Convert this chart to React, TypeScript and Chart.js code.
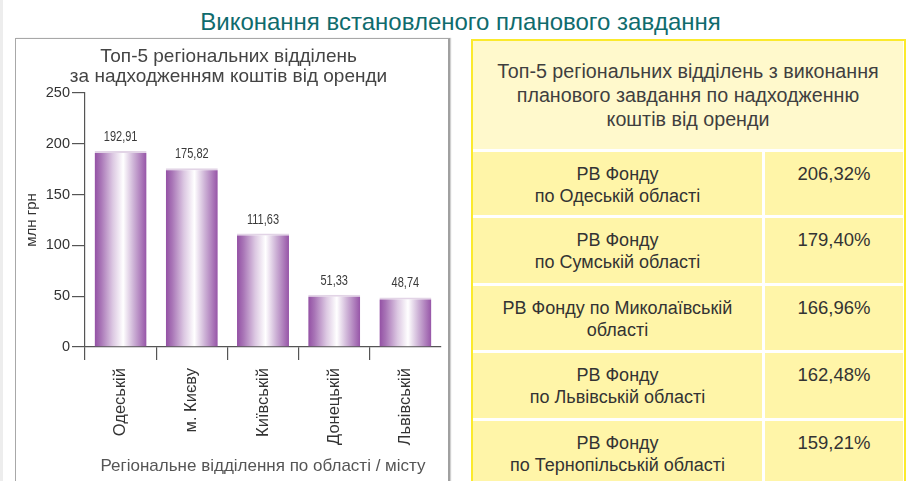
import React, { useEffect, useRef } from 'react';
import { Chart, registerables } from 'chart.js';

Chart.register(...registerables);

const pageTitle = 'Виконання встановленого планового завдання';
const chartTitle = ['Топ-5 регіональних відділень', 'за надходженням коштів від оренди'];
const categories = ['Одеській', 'м. Києву', 'Київській', 'Донецькій', 'Львівській'];
const values = [192.91, 175.82, 111.63, 51.33, 48.74];
const yTicks = [0, 50, 100, 150, 200, 250];
const yTitle = 'млн грн';
const xTitle = 'Регіональне відділення по області / місту';

const tableHeader = [
  'Топ-5 регіональних відділень з виконання',
  'планового завдання по надходженню',
  'коштів від оренди',
];
const tableNames = [
  ['РВ Фонду', 'по Одеській області'],
  ['РВ Фонду', 'по Сумській області'],
  ['РВ Фонду по Миколаївській', 'області'],
  ['РВ Фонду', 'по Львівській області'],
  ['РВ Фонду', 'по Тернопільській області'],
];
const tablePercents = [206.32, 179.4, 166.96, 162.48, 159.21];

const fmt = (v: number) => v.toFixed(2).replace('.', ',');
const FONT = "'Liberation Sans', Arial, Helvetica, sans-serif";
const BAR_PCT = 0.73;

const valueLabels = {
  id: 'valueLabels',
  afterDatasetsDraw(chart: any) {
    const ctx = chart.ctx;
    const meta = chart.getDatasetMeta(0);
    meta.data.forEach((el: any, i: number) => {
      ctx.save();
      ctx.fillStyle = '#3a3a3a';
      ctx.font = `14.5px ${FONT}`;
      ctx.textAlign = 'center';
      ctx.textBaseline = 'middle';
      ctx.translate(el.x, el.y - 14);
      ctx.scale(0.76, 1);
      ctx.fillText(fmt(values[i]), 0, 0);
      ctx.restore();
    });
  },
};

function ChartPanel() {
  const ref = useRef<HTMLCanvasElement | null>(null);
  useEffect(() => {
    if (!ref.current) return;
    const chart = new Chart(ref.current, {
      type: 'bar',
      data: {
        labels: categories,
        datasets: [
          {
            data: values,
            backgroundColor: (c: any) => {
              const ch = c.chart;
              const xs = ch.scales && ch.scales.x;
              if (!xs || c.dataIndex === undefined || !ch.chartArea) return '#a060b0';
              const cx = xs.getPixelForValue(c.dataIndex);
              const half = (xs.width / categories.length) * BAR_PCT / 2;
              const g = ch.ctx.createLinearGradient(cx - half, 0, cx + half, 0);
              g.addColorStop(0, '#9350a4');
              g.addColorStop(0.12, '#a874b6');
              g.addColorStop(0.35, '#dcc8e2');
              g.addColorStop(0.55, '#ffffff');
              g.addColorStop(0.75, '#cdb2d6');
              g.addColorStop(1, '#9654a7');
              return g;
            },
            borderColor: '#e2d4e6',
            borderWidth: { top: 2, left: 0, right: 0, bottom: 0 },
            borderSkipped: false,
            barPercentage: BAR_PCT,
            categoryPercentage: 1,
          },
        ],
      },
      options: {
        animation: false,
        responsive: false,
        maintainAspectRatio: false,
        layout: { padding: { left: 0, right: 9, top: 0, bottom: 0 } },
        plugins: {
          legend: { display: false },
          tooltip: { enabled: false },
          title: {
            display: true,
            text: chartTitle,
            color: '#444',
            font: { family: FONT, size: 19, weight: 'normal', lineHeight: 1.05 },
            padding: { top: 7, bottom: 6 },
          },
        },
        scales: {
          x: {
            afterFit: (s: any) => {
              s.height = 134;
            },
            grid: {
              offset: true,
              drawOnChartArea: false,
              drawTicks: true,
              tickLength: 13,
              color: (c: any) => (c.type === 'tick' ? '#555' : 'rgba(0,0,0,0)'),
              lineWidth: 1.2,
            },
            border: { display: true, color: '#555', width: 1.2 },
            ticks: {
              minRotation: 90,
              maxRotation: 90,
              autoSkip: false,
              padding: 8,
              color: '#333',
              font: { family: FONT, size: 16.5 },
            },
            title: {
              display: true,
              text: xTitle,
              color: '#555',
              font: { family: FONT, size: 17 },
              padding: { top: 0, bottom: 4 },
            },
          },
          y: {
            min: 0,
            max: 250,
            afterFit: (s: any) => {
              s.width = 69;
            },
            afterBuildTicks: (s: any) => {
              s.ticks = yTicks.map((v) => ({ value: v }));
            },
            grid: {
              drawOnChartArea: false,
              drawTicks: true,
              tickLength: 13,
              color: '#555',
              lineWidth: 1.2,
            },
            border: { display: true, color: '#555', width: 1.2 },
            ticks: {
              padding: 2,
              color: '#333',
              font: { family: FONT, size: 14.5 },
            },
            title: {
              display: true,
              text: yTitle,
              color: '#333',
              font: { family: FONT, size: 15 },
              padding: { top: 7, bottom: 0 },
            },
          },
        },
      },
      plugins: [valueLabels],
    });
    return () => chart.destroy();
  }, []);
  return (
    <canvas
      ref={ref}
      width={434}
      height={441}
      style={{ position: 'absolute', left: 16, top: 40, width: 434, height: 441 }}
    />
  );
}

export default function App() {
  const rowTops = [152, 218, 286, 353, 421];
  const rowHeights = [63, 65, 64, 65, 70];
  return (
    <div
      style={{
        position: 'absolute',
        left: 0,
        top: 0,
        width: 917,
        height: 481,
        overflow: 'hidden',
        background: '#fff',
        fontFamily: FONT,
      }}
    >
      <div style={{ position: 'absolute', left: 0, top: 0, width: 3, height: 481, background: '#ededed' }} />
      <div
        style={{
          position: 'absolute',
          left: 0,
          top: 6,
          width: 917,
          textAlign: 'center',
          fontSize: 24,
          lineHeight: '32px',
          color: '#0f6b6d',
          paddingLeft: 2,
        }}
      >
        {pageTitle}
      </div>
      <div
        style={{
          position: 'absolute',
          left: 15,
          top: 38,
          width: 432,
          height: 460,
          border: '1.5px solid #a8a8a8',
          borderRight: '2.5px solid #a0a0a0',
          boxShadow: '1px 0 1px #d0d0d0',
        }}
      />
      <ChartPanel />
      <div
        style={{
          position: 'absolute',
          left: 471,
          top: 39,
          width: 431,
          height: 460,
          border: '2px solid #fbea2c',
          background: '#ffffff',
        }}
      />
      <div
        style={{
          position: 'absolute',
          left: 473,
          top: 41,
          width: 430,
          height: 108,
          background: '#fff9cc',
          display: 'flex',
          flexDirection: 'column',
          justifyContent: 'center',
          alignItems: 'center',
          color: '#3f3f3f',
          fontSize: 19.7,
          lineHeight: '24px',
          textAlign: 'center',
        }}
      >
        {tableHeader.map((l, i) => (
          <div key={i}>{l}</div>
        ))}
      </div>
      {tableNames.map((lines, i) => (
        <React.Fragment key={i}>
          <div
            style={{
              position: 'absolute',
              left: 473,
              top: rowTops[i],
              width: 289,
              height: rowHeights[i],
              background: '#fff5a8',
              color: '#333',
              fontSize: 18,
              lineHeight: '22px',
              textAlign: 'center',
              paddingTop: 11,
              boxSizing: 'border-box',
            }}
          >
            {lines.map((l, j) => (
              <div key={j}>{l}</div>
            ))}
          </div>
          <div
            style={{
              position: 'absolute',
              left: 765,
              top: rowTops[i],
              width: 138,
              height: rowHeights[i],
              background: '#fff5a8',
              color: '#333',
              fontSize: 18.5,
              lineHeight: '22px',
              textAlign: 'center',
              paddingTop: 11,
              boxSizing: 'border-box',
            }}
          >
            {fmt(tablePercents[i]) + '%'}
          </div>
        </React.Fragment>
      ))}
    </div>
  );
}
